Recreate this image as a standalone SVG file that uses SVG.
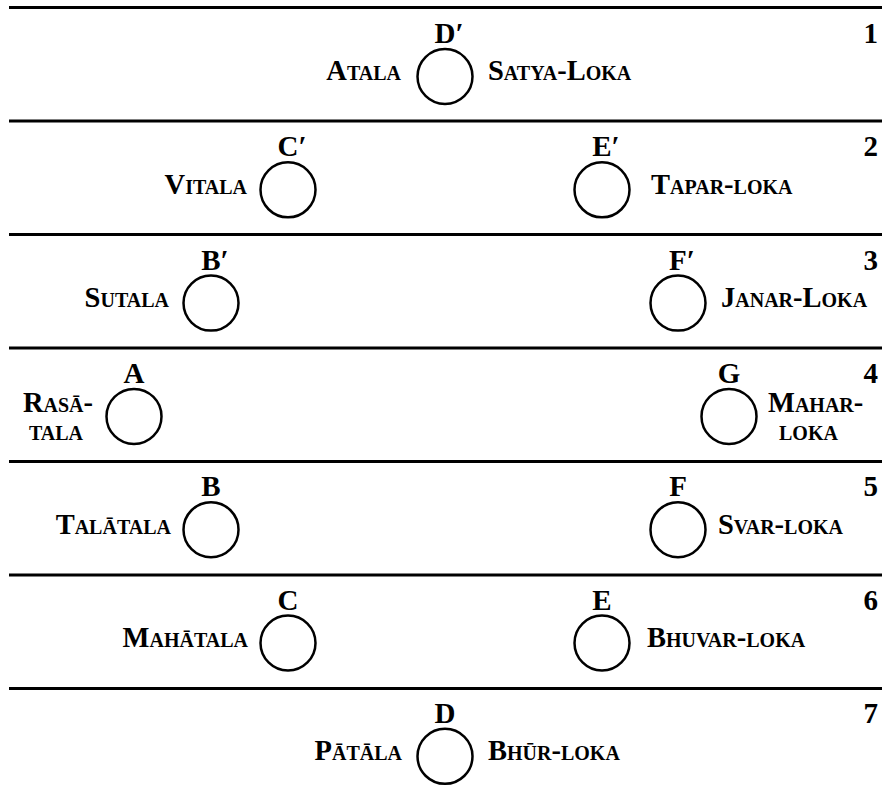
<svg xmlns="http://www.w3.org/2000/svg" width="882" height="799" viewBox="0 0 882 799">
<style>
  .rule { stroke: #000; stroke-width: 3; fill: none; }
  .node circle { fill: none; stroke: #000; stroke-width: 2.5; }
  text { font-family: "Liberation Serif", "Times New Roman", serif; fill: #000; font-weight: bold; }
  .ltr { font-size: 29px; text-anchor: middle; }
  .num { font-size: 29px; text-anchor: end; }
  .lbl { font-size: 28.5px; font-variant: small-caps; }
  .l { text-anchor: end; }
  .r { text-anchor: start; }
  .m { text-anchor: middle; }
</style>
<rect width="882" height="799" fill="#fff"/>
<g id="rules">
  <line class="rule" x1="9" y1="7.5" x2="882" y2="7.5"/>
  <line class="rule" x1="9" y1="121" x2="882" y2="121"/>
  <line class="rule" x1="9" y1="234.5" x2="882" y2="234.5"/>
  <line class="rule" x1="9" y1="348" x2="882" y2="348"/>
  <line class="rule" x1="9" y1="461.5" x2="882" y2="461.5"/>
  <line class="rule" x1="9" y1="575" x2="882" y2="575"/>
  <line class="rule" x1="9" y1="688.5" x2="882" y2="688.5"/>
</g>
<g id="row-numbers">
  <text class="num" x="878" y="43">1</text>
  <text class="num" x="878" y="156">2</text>
  <text class="num" x="878" y="270">3</text>
  <text class="num" x="878" y="383">4</text>
  <text class="num" x="878" y="496">5</text>
  <text class="num" x="878" y="610">6</text>
  <text class="num" x="878" y="723">7</text>
</g>
<g id="node-Dp" class="node">
  <circle cx="445" cy="76.5" r="27.5"/>
  <text class="ltr" x="449" y="43">D′</text>
  <text class="lbl l" x="401" y="80">Atala</text>
  <text class="lbl r" x="488" y="80">Satya-Loka</text>
</g>
<g id="node-Cp" class="node">
  <circle cx="288" cy="189.8" r="27.5"/>
  <text class="ltr" x="292" y="156">C′</text>
  <text class="lbl l" x="247" y="194">Vitala</text>
</g>
<g id="node-Ep" class="node">
  <circle cx="602" cy="189.8" r="27.5"/>
  <text class="ltr" x="606" y="156">E′</text>
  <text class="lbl r" x="651" y="194">Tapar-loka</text>
</g>
<g id="node-Bp" class="node">
  <circle cx="211" cy="303.1" r="27.5"/>
  <text class="ltr" x="215" y="270">B′</text>
  <text class="lbl l" x="169" y="307">Sutala</text>
</g>
<g id="node-Fp" class="node">
  <circle cx="678" cy="303.1" r="27.5"/>
  <text class="ltr" x="682" y="270">F′</text>
  <text class="lbl r" x="721" y="307">Janar-Loka</text>
</g>
<g id="node-A" class="node">
  <circle cx="134" cy="416.4" r="27.5"/>
  <text class="ltr" x="134" y="383">A</text>
  <text class="lbl m" x="58" y="412">Rasā-</text>
  <text class="lbl m" x="56" y="440">tala</text>
</g>
<g id="node-G" class="node">
  <circle cx="729" cy="416.4" r="27.5"/>
  <text class="ltr" x="729" y="383">G</text>
  <text class="lbl r" x="768" y="412">Mahar-</text>
  <text class="lbl r" x="779" y="440">loka</text>
</g>
<g id="node-B" class="node">
  <circle cx="211" cy="529.7" r="27.5"/>
  <text class="ltr" x="211" y="496">B</text>
  <text class="lbl l" x="171" y="534">Talātala</text>
</g>
<g id="node-F" class="node">
  <circle cx="678" cy="529.7" r="27.5"/>
  <text class="ltr" x="678" y="496">F</text>
  <text class="lbl r" x="718" y="534">Svar-loka</text>
</g>
<g id="node-C" class="node">
  <circle cx="288" cy="643" r="27.5"/>
  <text class="ltr" x="288" y="610">C</text>
  <text class="lbl l" x="248" y="647">Mahātala</text>
</g>
<g id="node-E" class="node">
  <circle cx="602" cy="643" r="27.5"/>
  <text class="ltr" x="602" y="610">E</text>
  <text class="lbl r" x="647" y="647">Bhuvar-loka</text>
</g>
<g id="node-D" class="node">
  <circle cx="445" cy="756.3" r="27.5"/>
  <text class="ltr" x="445" y="723">D</text>
  <text class="lbl l" x="402" y="760">Pātāla</text>
  <text class="lbl r" x="488" y="760">Bhūr-loka</text>
</g>
</svg>
